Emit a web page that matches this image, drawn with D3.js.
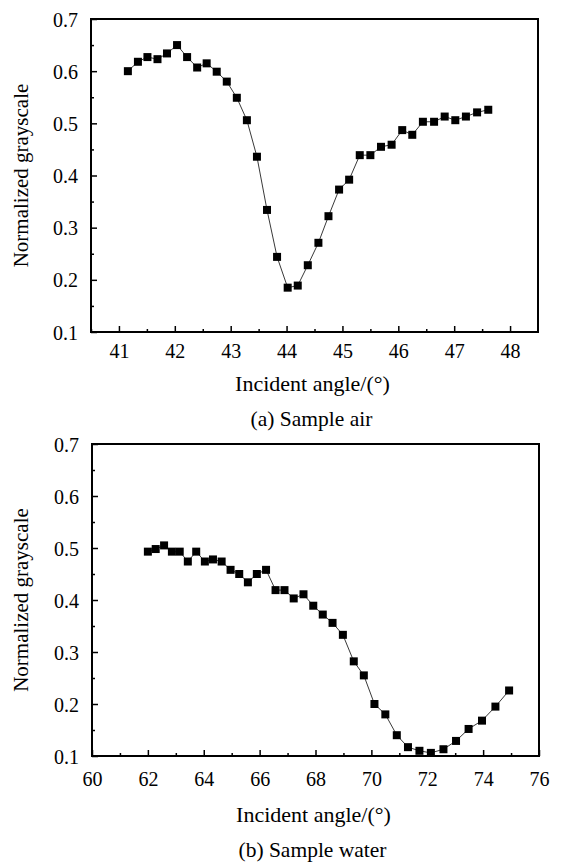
<!DOCTYPE html>
<html>
<head>
<meta charset="utf-8">
<script src="https://cdn.jsdelivr.net/npm/d3@7"></script>
<style>
  html, body { margin: 0; padding: 0; background: #fff; }
  svg { display: block; }
  svg text { font-family: "Liberation Serif", "Times New Roman", Times, "DejaVu Serif", serif !important; fill: #000; }
</style>
</head>
<body>
<svg id="chart" width="563" height="864" font-family="Liberation Serif, Times New Roman, serif"></svg>
<script>
// ---- Data: (a) Sample air ----
const airAngle = [41.16, 41.34, 41.51, 41.69, 41.86, 42.04, 42.22, 42.40, 42.57, 42.75, 42.93, 43.11,
  43.29, 43.47, 43.65, 43.83, 44.02, 44.20, 44.38, 44.57, 44.75, 44.94, 45.12, 45.31, 45.50, 45.69,
  45.88, 46.07, 46.25, 46.44, 46.64, 46.83, 47.02, 47.21, 47.41, 47.61];
const airValue = [0.600, 0.618, 0.627, 0.623, 0.634, 0.650, 0.627, 0.607, 0.615, 0.599, 0.580, 0.549,
  0.506, 0.436, 0.334, 0.244, 0.185, 0.189, 0.228, 0.271, 0.322, 0.373, 0.392, 0.439, 0.439, 0.455,
  0.459, 0.487, 0.478, 0.503, 0.503, 0.513, 0.506, 0.513, 0.521, 0.526];

// ---- Data: (b) Sample water ----
const waterAngle = [62.00, 62.28, 62.58, 62.86, 63.14, 63.43, 63.73, 64.04, 64.33, 64.64, 64.96, 65.27,
  65.58, 65.90, 66.23, 66.57, 66.89, 67.22, 67.57, 67.92, 68.26, 68.61, 68.98, 69.37, 69.73, 70.11,
  70.50, 70.91, 71.31, 71.72, 72.13, 72.58, 73.03, 73.48, 73.96, 74.44, 74.93];
const waterValue = [0.493, 0.498, 0.505, 0.493, 0.493, 0.474, 0.493, 0.474, 0.478, 0.474, 0.458, 0.450,
  0.434, 0.450, 0.458, 0.419, 0.419, 0.403, 0.411, 0.389, 0.372, 0.356, 0.333, 0.282, 0.255, 0.200,
  0.180, 0.140, 0.117, 0.110, 0.106, 0.113, 0.129, 0.152, 0.168, 0.195, 0.226];

// ---- Ticks ----
const airXTicks = [41, 42, 43, 44, 45, 46, 47, 48];
const airXMinor = [40.5, 41.5, 42.5, 43.5, 44.5, 45.5, 46.5, 47.5];
const waterXTicks = [60, 62, 64, 66, 68, 70, 72, 74, 76];
const waterXMinor = [61, 63, 65, 67, 69, 71, 73, 75];
const yTicks = [0.1, 0.2, 0.3, 0.4, 0.5, 0.6, 0.7];
const yMinor = [0.15, 0.25, 0.35, 0.45, 0.55, 0.65];

const xTitle = "Incident angle/(\u00B0)";
const yTitle = "Normalized grayscale";
const FONT = "Liberation Serif";

const svg = d3.select("#chart");

function panel(cfg) {
  const { left, right, top, bottom, xDomain, xTicks, xMinor, xs, ys, caption,
          tickBase, titleBase, capBase } = cfg;
  const x = d3.scaleLinear().domain(xDomain).range([left, right]);
  const y = d3.scaleLinear().domain([0.1, 0.7]).range([bottom, top]);
  const g = svg.append("g");

  // x axis (ticks inward)
  const xAxis = d3.axisBottom(x).tickValues(xTicks).tickSizeInner(-6).tickSizeOuter(0)
    .tickFormat(d3.format("d"));
  const gx = g.append("g").attr("transform", `translate(0,${bottom})`).call(xAxis)
    .attr("font-family", FONT).attr("font-size", 20);
  gx.select(".domain").remove();
  gx.selectAll(".tick line").attr("stroke", "#000").attr("stroke-width", 1.5);
  gx.selectAll(".tick text").attr("y", tickBase - bottom).attr("dy", 0);
  const xAxisMinor = d3.axisBottom(x).tickValues(xMinor).tickSizeInner(-3).tickSizeOuter(0).tickFormat("");
  const gxm = g.append("g").attr("transform", `translate(0,${bottom})`).call(xAxisMinor);
  gxm.select(".domain").remove();
  gxm.selectAll(".tick line").attr("stroke", "#000").attr("stroke-width", 1.5);

  // y axis (ticks inward)
  const yAxis = d3.axisLeft(y).tickValues(yTicks).tickSizeInner(-6).tickSizeOuter(0)
    .tickFormat(d3.format(".1f"));
  const gy = g.append("g").attr("transform", `translate(${left},0)`).call(yAxis)
    .attr("font-family", FONT).attr("font-size", 20);
  gy.select(".domain").remove();
  gy.selectAll(".tick line").attr("stroke", "#000").attr("stroke-width", 1.5);
  gy.selectAll(".tick text").attr("x", -13).attr("dy", "0.35em").attr("text-anchor", "end");
  const yAxisMinor = d3.axisLeft(y).tickValues(yMinor).tickSizeInner(-3).tickSizeOuter(0).tickFormat("");
  const gym = g.append("g").attr("transform", `translate(${left},0)`).call(yAxisMinor);
  gym.select(".domain").remove();
  gym.selectAll(".tick line").attr("stroke", "#000").attr("stroke-width", 1.5);

  // frame
  g.append("rect").attr("x", left).attr("y", top)
    .attr("width", right - left).attr("height", bottom - top)
    .attr("fill", "none").attr("stroke", "#000").attr("stroke-width", 2);

  // data
  const pts = xs.map((v, i) => [v, ys[i]]);
  const line = d3.line().x(d => x(d[0])).y(d => y(d[1]));
  g.append("path").datum(pts).attr("d", line)
    .attr("fill", "none").attr("stroke", "#222").attr("stroke-width", 0.9);
  const s = 8;
  g.selectAll("rect.pt").data(pts).enter().append("rect").attr("class", "pt")
    .attr("x", d => x(d[0]) - s / 2).attr("y", d => y(d[1]) - s / 2)
    .attr("width", s).attr("height", s).attr("fill", "#000");

  // titles
  const cx = (left + right) / 2;
  g.append("text").attr("x", cx - 2).attr("y", titleBase).attr("text-anchor", "middle")
    .attr("font-family", FONT).attr("font-size", 22).text(xTitle);
  g.append("text").attr("transform", `translate(28,${(top + bottom) / 2}) rotate(-90)`)
    .attr("text-anchor", "middle").attr("font-family", FONT).attr("font-size", 21).text(yTitle);
  g.append("text").attr("x", cx - 3).attr("y", capBase).attr("text-anchor", "middle")
    .attr("font-family", FONT).attr("font-size", 21.5).text(caption);
}

panel({ left: 91, right: 538, top: 19, bottom: 332, xDomain: [40.5, 48.5],
  xTicks: airXTicks, xMinor: airXMinor, xs: airAngle, ys: airValue,
  caption: "(a) Sample air", tickBase: 358, titleBase: 391, capBase: 426 });

panel({ left: 92, right: 539, top: 444, bottom: 756, xDomain: [60, 76],
  xTicks: waterXTicks, xMinor: waterXMinor, xs: waterAngle, ys: waterValue,
  caption: "(b) Sample water", tickBase: 786, titleBase: 822, capBase: 857 });
</script>
</body>
</html>
